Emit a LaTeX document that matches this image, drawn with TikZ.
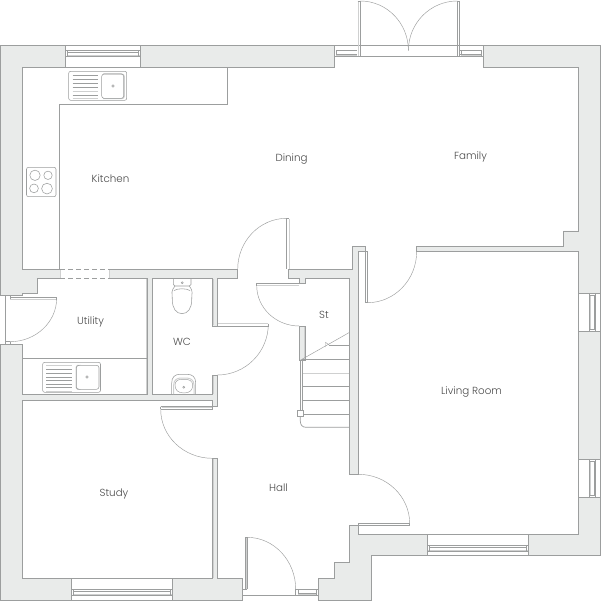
\documentclass[tikz,border=0pt]{standalone}
\usepackage{fontspec}
\setmainfont{Poppins}[UprightFont=* Light]
\usetikzlibrary{calc}
\definecolor{wallfill}{HTML}{E9EBEA}
\definecolor{linec}{HTML}{9C9E9E}
\definecolor{lightc}{HTML}{CFD0D0}
\definecolor{textc}{HTML}{4A4A4A}
\tikzset{
 wallshape/.style={fill=wallfill,draw=linec,line width=0.8pt,line join=miter},
 plainline/.style={draw=linec,line width=0.7pt},
 thinline/.style={draw=linec,line width=0.45pt},
 lightline/.style={draw=lightc,line width=1pt},
 fixture/.style={draw=linec,line width=0.55pt},
 roomlabel/.style={text=textc,font=\fontsize{10.3}{12}\selectfont,inner sep=0pt},
}
% quarter arc from A to B, with corner C
\newcommand{\quarterarc}[3]{\draw[thinline] (#1) .. controls ($(#1)!0.5523!(#3)$) and ($(#2)!0.5523!(#3)$) .. (#2);}
\newcommand{\winh}[6]{% x1 x2 y1 y2 stripy1 stripy2
 \draw[plainline,fill=white] (#1,#3) rectangle (#2,#4);
 \draw[lightline] (#1+1,#6-0.3) -- (#2-1,#6-0.3);
 \draw[thinline] (#1,#5) -- (#2,#5) (#1,#6) -- (#2,#6) (#1+2.2,#5) -- (#1+2.2,#6) (#2-2.2,#5) -- (#2-2.2,#6);
 \draw[thinline] (#1+2,#5+1.7) -- (#2-2,#5+1.7);
}
\newcommand{\winv}[6]{% y1 y2 x1 x2 stripx1 stripx2
 \draw[plainline,fill=white] (#3,#1) rectangle (#4,#2);
 \draw[lightline] (#5+0.5,#1+2) -- (#5+0.5,#2-2);
 \draw[thinline] (#5,#1) -- (#5,#2) (#6,#1) -- (#6,#2) (#5,#1+2.2) -- (#6,#1+2.2) (#5,#2-2.2) -- (#6,#2-2.2);
 \draw[thinline] (#6-1.7,#1+2) -- (#6-1.7,#2-2);
}
\begin{document}
\begin{tikzpicture}[x=1pt,y=-1pt]
\useasboundingbox[fill=white] (0,0) rectangle (601,601);

% walls
\path[wallshape] (0.5,45.5)--(65.5,45.5)--(65.5,67.5)--(22.5,67.5)--(22.5,269.3)--(60.3,269.3)--(60.3,278.7)--(37.3,278.7)--(37.3,293.3)--(22.3,293.3)--(22.3,295)--(0.5,295)--cycle;
\path[wallshape] (140.5,45.5)--(334.3,45.5)--(334.3,67.5)--(140.5,67.5)--cycle;
\path[wallshape] (483.3,45.5)--(600.5,45.5)--(600.5,293.3)--(578.3,293.3)--(578.3,251.3)--(416.7,251.3)--(416.7,246.3)--(563.3,246.3)--(563.3,231)--(578.3,231)--(578.3,67.5)--(483.3,67.5)--cycle;
\path[wallshape] (578.3,331.3)--(600.5,331.3)--(600.5,459.3)--(578.3,459.3)--cycle;
\path[wallshape] (578.3,497.3)--(600.5,497.3)--(600.5,555.7)--(528.5,555.7)--(528.5,534)--(578.3,534)--cycle;
\path[wallshape] (427.3,534)--(427.3,555.7)--(371.7,555.7)--(371.7,600)--(318.3,600)--(318.3,578.3)--(334.3,578.3)--(334.3,562.7)--(349.7,562.7)--(349.7,525.3)--(358.3,525.3)--(358.3,534)--cycle;
\path[wallshape] (352.7,246.3)--(365.7,246.3)--(365.7,251.3)--(358.3,251.3)--(358.3,474.3)--(349.3,474.3)--(349.3,278.3)--(305,278.3)--(305,283.3)--(299.3,283.3)--(299.3,278.3)--(288.3,278.3)--(288.3,269.3)--(352.7,269.3)--cycle;
\path[wallshape] (299.3,326)--(305,326)--(305,360)--(299.3,360)--cycle;
\path[wallshape] (109,269.3)--(237.5,269.3)--(237.5,278.7)--(217.3,278.7)--(217.3,326)--(212.3,326)--(212.3,278.7)--(152.3,278.7)--(152.3,394.7)--(212.3,394.7)--(212.3,375)--(217.3,375)--(217.3,406.7)--(212.3,406.7)--(212.3,400)--(22.3,400)--(22.3,578.3)--(71.5,578.3)--(71.5,600)--(0.5,600)--(0.5,344)--(22.3,344)--(22.3,394.7)--(147,394.7)--(147,278.7)--(109,278.7)--cycle;
\path[wallshape] (172.7,578.3)--(212.3,578.3)--(212.3,458.3)--(217.3,458.3)--(217.3,578.3)--(242.3,578.3)--(242.3,600)--(172.7,600)--cycle;

% light edges next to walls
\draw[lightline] (146.2,279)--(146.2,394) (213,279)--(213,325) (213,376)--(213,394) (304.3,327)--(304.3,360) (213,459)--(213,578) (60.3,270)--(60.3,278) (109,270)--(109,278) (289,219)--(289,269);

% windows
\winh{65.5}{140.5}{45.5}{67.5}{50.5}{56.3}
\winh{71.5}{172.7}{578.3}{600}{589.3}{595}
\winh{427.3}{528.5}{534}{555.7}{545.3}{551}
\winv{293.3}{331.3}{578.3}{600.5}{589.5}{595.7}
\winv{459.3}{497.3}{578.3}{600.5}{589.5}{595.7}

% french doors and side lights
\draw[plainline] (334.3,45.5)--(483.3,45.5) (334.3,56.3)--(483.3,56.3) (334.3,45.5)--(334.3,56.3) (483.3,45.5)--(483.3,56.3);
\draw[thinline] (336,50.7)--(357.3,50.7) (336,54.5)--(357.3,54.5) (336,50.7)--(336,56.3) (460,50.7)--(481.5,50.7) (460,54.5)--(481.5,54.5) (481.5,50.7)--(481.5,56.3) (461.5,50.7)--(461.5,56.3);
\draw[lightline] (336,55.6)--(357,55.6) (461,55.6)--(481,55.6);
\draw[lightline] (358,1)--(358,56);
\draw[thinline] (360.3,1)--(360.3,56.3) (357.5,1)--(360.3,1) (457.3,1)--(457.3,56.3) (459.5,1)--(459.5,56.3) (457.3,1)--(459.5,1);
\quarterarc{360.3,1}{408.4,50.5}{408.4,1}
\quarterarc{457.3,1}{408.4,50.5}{408.4,1}

% kitchen opening
\draw[plainline,dashed,dash pattern=on 5pt off 3pt] (60.3,269.3)--(109,269.3) (60.3,278.7)--(109,278.7);

% kitchen counter
\draw[plainline] (59.3,269.3)--(59.3,104.3)--(227.3,104.3)--(227.3,67.5);

% kitchen door
\draw[thinline] (286.7,218.3)--(286.7,269.3);
\draw[thinline] (286.7,218.3)--(289.3,218.3);
\quarterarc{237.7,269.3}{286.7,218.3}{237.7,218.3}

% family door
\draw[thinline] (365.7,251.3) rectangle (367.5,302.7);
\quarterarc{367.5,302.7}{416.7,251.3}{416.7,302.7}

% living door
\draw[plainline] (358.3,523.6) rectangle (409.7,525.3);
\quarterarc{358.3,474.3}{409.7,523.6}{409.7,474.3}

% store door
\draw[lightline] (257.2,285.2)--(299,285.2);
\draw[thinline] (256.7,283.4)--(299.3,283.4) (256.7,283.4)--(256.7,285.5);
\quarterarc{256.7,285.5}{299.3,326}{256.7,326}

% WC door
\draw[lightline] (218,323)--(268,323);
\draw[thinline] (217.3,325.8)--(268.3,325.8)--(268.3,323.8);
\quarterarc{268.3,324}{217.3,375}{268.3,375}

% study door
\draw[lightline] (161.5,407.3)--(212,407.3);
\draw[thinline] (160.7,406.7)--(212.3,406.7) (160.7,409.3)--(212.3,409.3)--(212.3,406.7) (160.7,406.7)--(160.7,409.3);
\quarterarc{160.7,409.3}{212.3,458.3}{160.7,458.3}

% front door
\draw[lightline] (246.2,538)--(246.2,589);
\draw[thinline] (245,537.3)--(245,589.3) (247.3,537.3)--(247.3,589.3) (245,537.3)--(247.3,537.3);
\quarterarc{247,537.3}{295.7,589.3}{295.7,537.3}
\draw[plainline] (242.3,595.5)--(318.3,595.5);
\draw[thinline] (242.3,589.3)--(247.3,589.3) (295.7,589.3)--(295.7,595.5) (297.8,589.3)--(297.8,595.5) (295.7,589.3)--(318.3,589.3) (316.7,589.3)--(316.7,595.5) (298,593.2)--(316.7,593.2);
\draw[lightline] (298,594.5)--(316,594.5);

% utility door
\draw[plainline] (5.3,295)--(5.3,344);
\draw[thinline] (10,295)--(10,300) (10,341.7)--(10,344) (5.3,341.7)--(10,341.7);
\draw[lightline] (10,299.6)--(55.5,299.6);
\draw[thinline] (10,297.3)--(56.7,297.3)--(56.7,300);
\quarterarc{56.7,298}{10,341.7}{56.7,341.7}

% utility counter
\draw[plainline] (22.3,358.3)--(147,358.3);

% kitchen sink
\draw[fixture,rounded corners=2pt] (68.7,71.3) rectangle (126.7,100.3);
\draw[thinline] (72.7,75.7)--(98.3,75.7) (72.7,79.3)--(98.3,79.3) (72.7,83.3)--(98.3,83.3) (72.7,87.3)--(98.3,87.3) (72.7,95)--(98.3,95);
\draw[lightline] (72.7,91.7)--(98.3,91.7) (72.7,99)--(98.3,99);
\draw[lightline,rounded corners=2.5pt] (103,74)--(124.3,74)--(124.3,98.7)--(103,98.7);
\draw[fixture,rounded corners=2.5pt] (101.7,74) rectangle (123.7,98.4);
\draw[fixture] (113,86) circle[radius=1.3];

% hob
\draw[fixture,rounded corners=2pt] (26.5,167.3) rectangle (56,196.7);
\draw[fixture] (35,175.3) circle[radius=5.2] (48,175.3) circle[radius=4.2] (34,188.4) circle[radius=4.4] (47,188.6) circle[radius=5.4];

% utility sink
\draw[fixture,rounded corners=2pt] (42.7,362.3) rectangle (100.5,392.3);
\draw[thinline] (46,369.3)--(72,369.3) (46,373.3)--(72,373.3) (46,377.3)--(72,377.3) (46,380.7)--(72,380.7) (46,384.3)--(72,384.3) (46,387.7)--(72,387.7);
\draw[lightline] (46,365.7)--(72,365.7) (46,391)--(72,391);
\draw[lightline,rounded corners=2.5pt] (77,389.3)--(76,389.3)--(76,365.3)--(77,365.3);
\draw[fixture,rounded corners=2.5pt] (76.3,365.3) rectangle (99,389.3);
\draw[fixture] (87,377) circle[radius=1.2];

% toilet
\draw[fixture] (173.3,278.7)--(173.3,284.5)--(175,286)--(189.3,286)--(191,284.5)--(191,278.7);
\draw[fixture] (182.3,282.7) circle[radius=1];
\draw[fixture] (175,286) .. controls (170.5,292) and (172.3,292) .. (172.3,300) .. controls (172.3,308) and (176,313.7) .. (182,313.7) .. controls (188,313.7) and (191.7,308) .. (191.7,300) .. controls (191.7,292) and (193.5,292) .. (189.3,286);
\draw[fixture] (174,290.5) .. controls (178,288.2) and (186,288.2) .. (190,290.5);

% basin
\draw[fixture] (171.7,394.7)--(171.7,383) .. controls (171.7,377) and (175,374.3) .. (180,374.3)--(187,374.3) .. controls (192.5,374.3) and (195.7,377) .. (195.7,383)--(195.7,394.7);
\draw[lightline] (173.7,394)--(173.7,385) .. controls (173.7,380) and (177,378) .. (181,378)--(186,378) .. controls (190.5,378) and (194,380) .. (194,385)--(194,394);
\draw[thinline] (175,385) .. controls (175,381) and (178,379.3) .. (182,379.3)--(185,379.3) .. controls (189,379.3) and (192.7,381) .. (192.7,385) .. controls (192.7,390) and (190,393) .. (184,393) .. controls (178,393) and (175,390) .. (175,385);
\draw[fixture] (183.7,387.3) circle[radius=1];

% stairs
\draw[thinline] (299.8,360.5)--(349.3,332.5);
\draw[thinline] (325.5,347)--(325.5,342.3)--(329.5,345.3);
\draw[plainline] (329,345.3)--(349.3,345.3) (302.3,359.3)--(349.3,359.3) (302.3,386.3)--(349.3,386.3) (302.3,400.3)--(349.3,400.3) (303.7,414)--(349.3,414);
\draw[lightline] (302.3,373)--(349.3,373);
\draw[thinline] (299.8,360)--(299.8,410.7) (302.3,360)--(302.3,410.7);
\draw[thinline] (297.3,410.7) rectangle (303.7,416);
\draw[plainline] (300.3,416)--(300.3,421) .. controls (300.3,425) and (302.5,427.3) .. (306,427.3)--(349.3,427.3);

% labels
\node[roomlabel] (kitchen) at (110.5,178.8) {Kitchen};
\node[roomlabel] (dining) at (291.5,158.8) {Dining};
\node[roomlabel] (family) at (470.5,156.8) {Family};
\node[roomlabel] (utility) at (90.5,321.8) {Utility};
\node[roomlabel] (wc) at (182,341.6) {WC};
\node[roomlabel] (st) at (324,315) {St};
\node[roomlabel] (living) at (471.5,391.8) {Living Room};
\node[roomlabel] (study) at (114,493.8) {Study};
\node[roomlabel] (hall) at (278.5,488) {Hall};
\end{tikzpicture}
\end{document}
